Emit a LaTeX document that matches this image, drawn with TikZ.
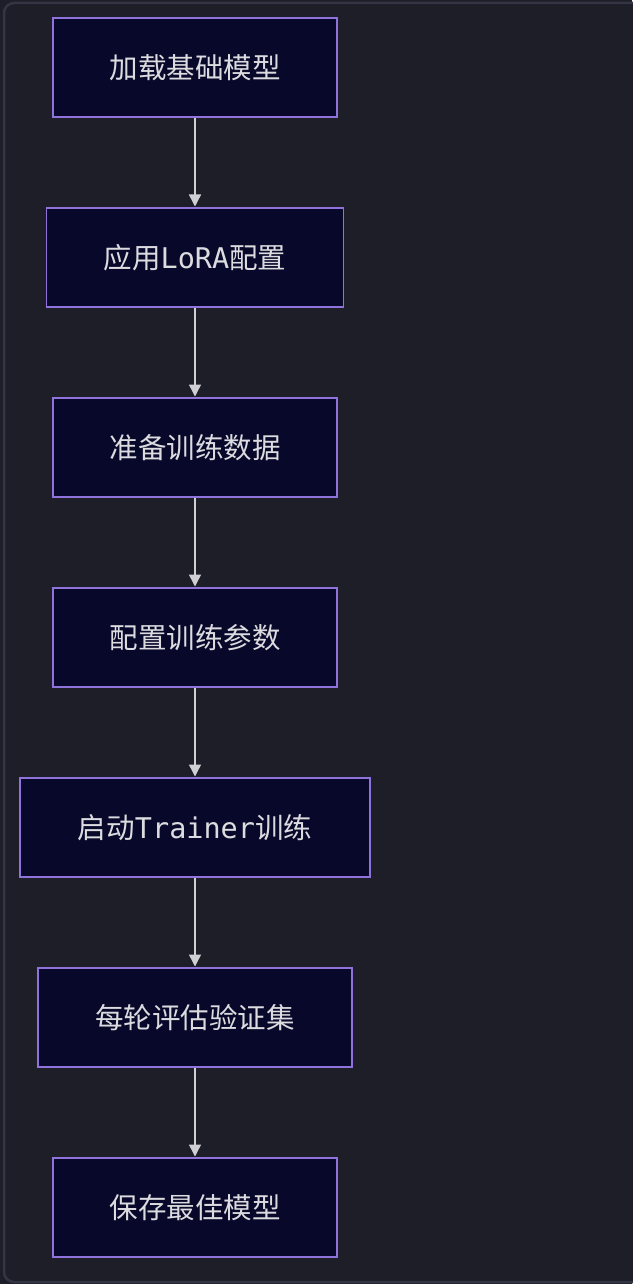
\documentclass[tikz,border=0pt]{standalone}
\usepackage{fontspec}
\setmainfont{Noto Sans CJK SC}
\newfontfamily\latmono{DejaVu Sans Mono}
\usetikzlibrary{arrows.meta}
\definecolor{bgc}{HTML}{1E1E28}
\definecolor{framec}{HTML}{323543}
\definecolor{boxfill}{HTML}{08082A}
\definecolor{boxline}{HTML}{8F72DC}
\definecolor{txtc}{HTML}{DCDCE0}
\definecolor{arrc}{HTML}{D0D0D4}
\newcommand{\lm}[1]{{\latmono #1}}
\tikzset{
  stepbox/.style={draw=boxline, fill=boxfill, line width=1.6pt, text=txtc,
    font=\fontsize{28.5pt}{32pt}\selectfont, minimum height=99pt, inner sep=0pt, anchor=north},
  flow/.style={draw=arrc, line width=1.4pt, -{Triangle[width=12pt,length=12pt]}, shorten >=0.5pt}
}
\begin{document}
\begin{tikzpicture}[x=1pt,y=-1pt]
\fill[bgc] (0,0) rectangle (632,1284);
\useasboundingbox (0,0) rectangle (632,1284);
\draw[framec, line width=2.5pt, fill=bgc, rounded corners=10pt] (4,3) rectangle (660,1282);
\node[stepbox, minimum width=284pt] (n1) at (195,17) {加载基础模型};
\node[stepbox, minimum width=297pt] (n2) at (195,207) {应用\lm{LoRA}配置};
\node[stepbox, minimum width=284pt] (n3) at (195,397) {准备训练数据};
\node[stepbox, minimum width=284pt] (n4) at (195,587) {配置训练参数};
\node[stepbox, minimum width=350pt] (n5) at (195,777) {启动\lm{Trainer}训练};
\node[stepbox, minimum width=314pt] (n6) at (195,967) {每轮评估验证集};
\node[stepbox, minimum width=284pt] (n7) at (195,1157) {保存最佳模型};
\foreach \a/\b in {n1/n2,n2/n3,n3/n4,n4/n5,n5/n6,n6/n7}
  \draw[flow] (\a.south) -- (\b.north);
\end{tikzpicture}
\end{document}
